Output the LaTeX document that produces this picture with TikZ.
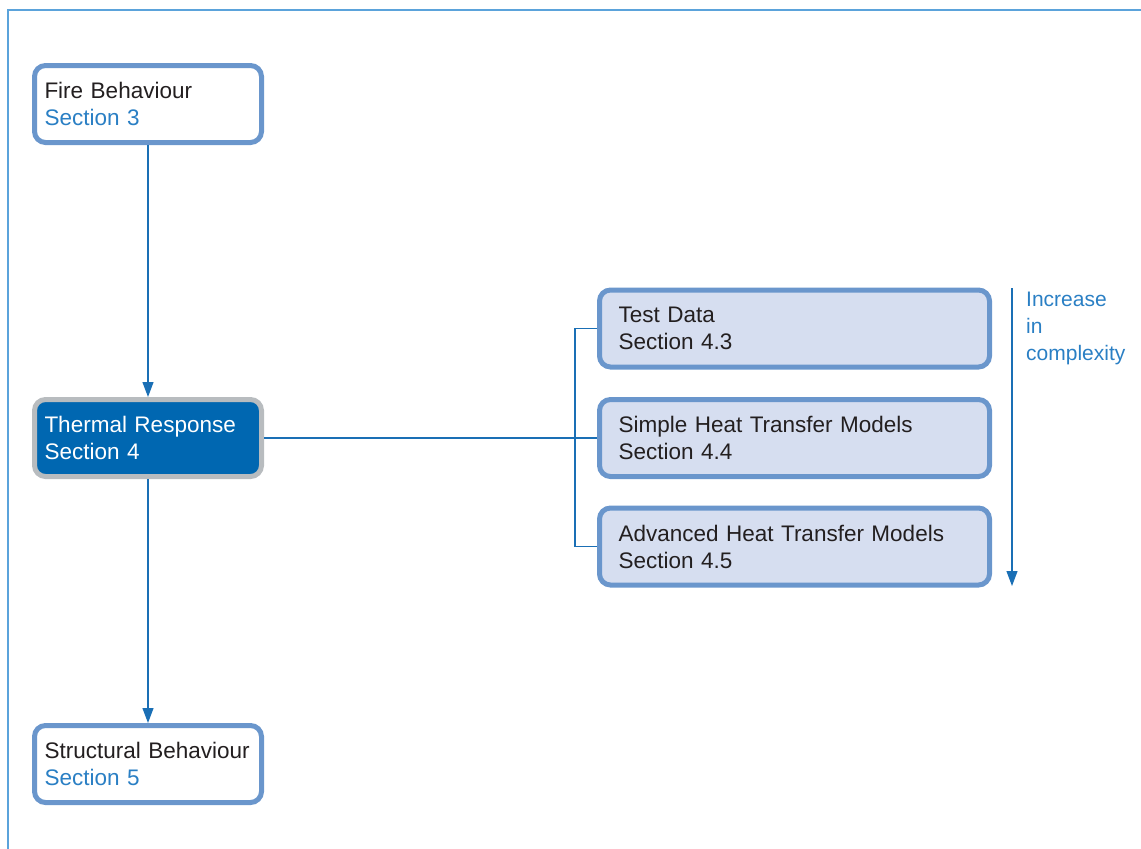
\documentclass[tikz,border=0pt]{standalone}
\usepackage{fontspec}
\setmainfont{Liberation Sans}
\usetikzlibrary{arrows.meta}

\definecolor{boxedge}{RGB}{106,150,204}
\definecolor{boxfill}{RGB}{214,222,240}
\definecolor{darkbox}{RGB}{0,103,177}
\definecolor{greyedge}{RGB}{184,188,191}
\definecolor{linkblue}{RGB}{26,111,181}
\definecolor{secblue}{RGB}{42,127,196}
\definecolor{framblue}{RGB}{91,163,219}
\definecolor{inkgrey}{RGB}{35,31,32}

\tikzset{
  sect/.style={draw=boxedge, line width=5pt, rounded corners=11pt, fill=white,
    minimum width=227pt, minimum height=77pt, text width=207pt, align=left,
    inner xsep=10pt, text=inkgrey, font=\fontsize{22.5}{27}\selectfont},
  subsect/.style={sect, fill=boxfill, minimum width=390pt, text width=352pt,
    inner xsep=19pt},
  mainsect/.style={sect, draw=greyedge, fill=darkbox, text=white},
  link/.style={draw=linkblue, line width=1.2pt},
  tip/.style={link, -{Triangle[length=15pt, width=11pt]}}
}

\begin{document}
\begin{tikzpicture}[x=1pt, y=-1pt]
    \useasboundingbox (0,0) rectangle (1141,849);

    %keret a bal és a felső oldalon
    \draw[framblue, line width=1.5pt] (8,849) -- (8,10) -- (1141,10);

    %a bal oszlop dobozai
    \node[sect] (fire) at (148,104) {Fire Behaviour\\\textcolor{secblue}{Section 3}};
    \node[mainsect] (thermal) at (148,438) {Thermal Response\\Section 4};
    \node[sect] (struct) at (148,764) {Structural Behaviour\\\textcolor{secblue}{Section 5}};

    %a jobb oszlop dobozai
    \node[subsect] (test) at (794.5,328.5) {Test Data\\Section 4.3};
    \node[subsect] (simple) at (794.5,438) {Simple Heat Transfer Models\\Section 4.4};
    \node[subsect] (adv) at (794.5,546.5) {Advanced Heat Transfer Models\\Section 4.5};

    %nyilak a bal oszlopban
    \draw[tip] (fire.south) -- (thermal.north);
    \draw[tip] (thermal.south) -- (struct.north);

    %összekötő vonal és a zárójel
    \draw[link] (thermal.east) -- (simple.west);
    \draw[link] (test.west) -- ++(-22,0) |- (adv.west);

    %a bonyolultság nyila
    \coordinate (up) at (1012,288);
    \coordinate (down) at (1012,586);
    \draw[tip] (up) -- (down);
    \node[anchor=north west, align=left, text=secblue, inner sep=0pt,
      font=\fontsize{21}{27}\selectfont] (incr) at (1026,292) {Increase\\in\\complexity};
\end{tikzpicture}
\end{document}
